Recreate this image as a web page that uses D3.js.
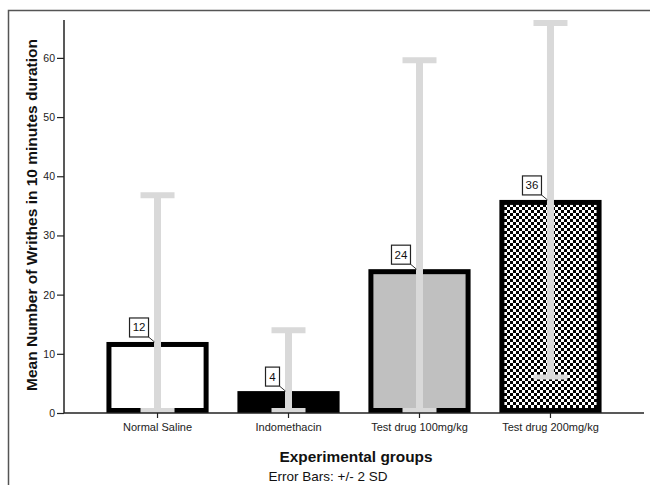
<!DOCTYPE html>
<html>
<head>
<meta charset="utf-8">
<script src="https://cdn.jsdelivr.net/npm/d3@7"></script>
<style>
  body { margin: 0; background: #fff; }
  text { font-family: "Liberation Sans", Arial, sans-serif; }
</style>
</head>
<body>
<div class="chart"></div>
<script>
// data
var groups = ["Normal Saline", "Indomethacin", "Test drug 100mg/kg", "Test drug 200mg/kg"];
var means = [12.0, 3.7, 24.3, 36.0];
var sds = [12.4, 5.15, 17.65, 14.95];
var fills = ["#ffffff", "#000000", "#c0c0c0", "url(#checker)"];
var yTicks = [0, 10, 20, 30, 40, 50, 60];

var svgWidth = 650;
var svgHeight = 485;

var svg = d3.select(".chart")
    .append("svg")
    .attr("width", svgWidth)
    .attr("height", svgHeight);

// checkerboard fill
var pat = svg.append("defs").append("pattern")
    .attr("id", "checker")
    .attr("patternUnits", "userSpaceOnUse")
    .attr("width", 6)
    .attr("height", 6);
pat.append("rect").attr("width", 6).attr("height", 6).attr("fill", "#000");
pat.append("rect").attr("x", 0).attr("y", 0).attr("width", 3).attr("height", 3).attr("fill", "#fff");
pat.append("rect").attr("x", 3).attr("y", 3).attr("width", 3).attr("height", 3).attr("fill", "#fff");

// outer frame (top + left only visible)
svg.append("path")
    .attr("d", "M8.5,485V10.5H650")
    .attr("fill", "none")
    .attr("stroke", "#555")
    .attr("stroke-width", 1.5);

var x0 = 64, x1 = 644, yBase = 413, yTop = 20;

var x = d3.scaleBand()
    .domain(groups)
    .range([x0, x1])
    .paddingInner(0.22)
    .paddingOuter(0.324);

var y = d3.scaleLinear()
    .domain([0, 66.4])
    .range([yBase, yTop]);

var data = groups.map(function(g, i) {
    return { group: g, mean: means[i], sd: sds[i], fill: fills[i] };
});

// bars
var bw = x.bandwidth();
svg.selectAll(".bar")
    .data(data)
    .enter().append("rect")
    .attr("class", "bar")
    .attr("x", d => x(d.group) + 2.5)
    .attr("y", d => y(d.mean) + 2.5)
    .attr("width", bw - 5)
    .attr("height", d => yBase - y(d.mean) - 5)
    .attr("fill", d => d.fill)
    .attr("stroke", "#000")
    .attr("stroke-width", 5);

// error bars +/- 2 SD, clipped at zero
var errCol = "#d9d9d9";
var capW = 34;
function lowY(d) {
    return Math.min(y(Math.max(0, d.mean - 2 * d.sd)), yBase - 2.5);
}
var err = svg.selectAll(".err")
    .data(data)
    .enter().append("g")
    .attr("class", "err");

err.append("line")
    .attr("x1", d => x(d.group) + bw / 2)
    .attr("x2", d => x(d.group) + bw / 2)
    .attr("y1", d => y(d.mean + 2 * d.sd))
    .attr("y2", lowY)
    .attr("stroke", errCol)
    .attr("stroke-width", 7);

err.append("line")
    .attr("x1", d => x(d.group) + bw / 2 - capW / 2)
    .attr("x2", d => x(d.group) + bw / 2 + capW / 2)
    .attr("y1", d => y(d.mean + 2 * d.sd))
    .attr("y2", d => y(d.mean + 2 * d.sd))
    .attr("stroke", errCol)
    .attr("stroke-width", 6);

err.append("line")
    .attr("x1", d => x(d.group) + bw / 2 - capW / 2)
    .attr("x2", d => x(d.group) + bw / 2 + capW / 2)
    .attr("y1", lowY)
    .attr("y2", lowY)
    .attr("stroke", errCol)
    .attr("stroke-width", 5);

// axes
var yAxis = d3.axisLeft(y).tickValues(yTicks).tickSize(7).tickPadding(2);
var gy = svg.append("g")
    .attr("transform", `translate(${x0},0)`)
    .call(yAxis);
gy.select(".domain").remove();
gy.selectAll(".tick line").attr("stroke", "#222").attr("stroke-width", 1.2);
gy.selectAll(".tick text").attr("font-size", 10.5).attr("fill", "#222")
    .style("font-family", "Liberation Sans, Arial, sans-serif");

svg.append("line")
    .attr("x1", x0).attr("x2", x0)
    .attr("y1", yTop).attr("y2", yBase)
    .attr("stroke", "#222").attr("stroke-width", 1.5);

var xAxis = d3.axisBottom(x).tickSize(5).tickPadding(5).tickSizeOuter(0);
var gx = svg.append("g")
    .attr("transform", `translate(0,${yBase})`)
    .call(xAxis);
gx.select(".domain").remove();
gx.selectAll(".tick line").attr("stroke", "#222").attr("stroke-width", 1.2);
gx.selectAll(".tick text").attr("font-size", 11).attr("fill", "#222")
    .style("font-family", "Liberation Sans, Arial, sans-serif");

svg.append("line")
    .attr("x1", x0).attr("x2", x1)
    .attr("y1", yBase).attr("y2", yBase)
    .attr("stroke", "#222").attr("stroke-width", 1.5);

// value labels with leader lines
var fmt = d3.format(".0f");
var lab = svg.selectAll(".lab")
    .data(data)
    .enter().append("g")
    .attr("class", "lab")
    .attr("transform", d => `translate(${x(d.group) + bw / 2 - 9},${y(d.mean) - 5})`);

lab.append("line")
    .attr("x1", 0).attr("y1", 0)
    .attr("x2", 6).attr("y2", 5)
    .attr("stroke", "#333").attr("stroke-width", 1);

lab.append("rect")
    .attr("x", d => fmt(d.mean).length > 1 ? -19 : -14)
    .attr("y", -19)
    .attr("width", d => fmt(d.mean).length > 1 ? 19 : 14)
    .attr("height", 19)
    .attr("fill", "#fff")
    .attr("stroke", "#222")
    .attr("stroke-width", 1.2);

lab.append("text")
    .attr("x", d => fmt(d.mean).length > 1 ? -9.5 : -7)
    .attr("y", -5.5)
    .attr("text-anchor", "middle")
    .attr("font-size", 11.5)
    .attr("fill", "#111")
    .text(d => fmt(d.mean));

// titles
svg.append("text")
    .attr("transform", "translate(37,215) rotate(-90)")
    .attr("text-anchor", "middle")
    .attr("font-size", 15.5)
    .attr("font-weight", "bold")
    .attr("fill", "#111")
    .text("Mean Number of Writhes in 10 minutes duration");

svg.append("text")
    .attr("x", 356)
    .attr("y", 462)
    .attr("text-anchor", "middle")
    .attr("font-size", 15.4)
    .attr("font-weight", "bold")
    .attr("fill", "#111")
    .text("Experimental groups");

svg.append("text")
    .attr("x", 328)
    .attr("y", 481)
    .attr("text-anchor", "middle")
    .attr("font-size", 13.5)
    .attr("fill", "#111")
    .text("Error Bars: +/- 2 SD");
</script>
</body>
</html>
